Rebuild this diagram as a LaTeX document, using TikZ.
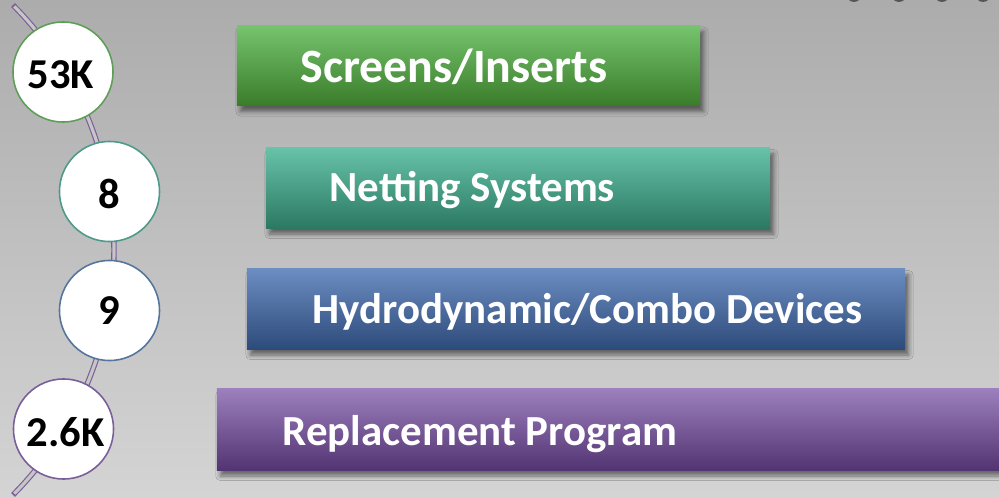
\documentclass[tikz,border=0pt]{standalone}
\usepackage{fontspec}
\setmainfont{Carlito}
\usetikzlibrary{shadows.blur}

\definecolor{bgtop}{HTML}{ACACAC}
\definecolor{bgbot}{HTML}{D4D4D4}
\definecolor{greentop}{HTML}{76C46E}
\definecolor{greenbot}{HTML}{3A7C2A}
\definecolor{tealtop}{HTML}{66C2A8}
\definecolor{tealbot}{HTML}{2C7963}
\definecolor{bluetop}{HTML}{6C8DC2}
\definecolor{bluebot}{HTML}{2D4B7A}
\definecolor{purptop}{HTML}{9C7FBD}
\definecolor{purpbot}{HTML}{533472}
\definecolor{greenring}{HTML}{5E9E58}
\definecolor{tealring}{HTML}{4E9A88}
\definecolor{bluering}{HTML}{56759C}
\definecolor{purpring}{HTML}{7A5E98}
\definecolor{railin}{HTML}{C6C6C6}

\tikzset{
  bar/.style={rectangle, inner sep=0pt, minimum height=0.80cm,
    blur shadow={shadow xshift=0.035cm, shadow yshift=-0.06cm,
      shadow blur radius=0.045cm, shadow opacity=50}},
  bartext/.style={anchor=base west, inner sep=0pt, text=white,
    font=\bfseries\fontsize{12.2}{13}\selectfont},
  ring/.style={circle, fill=white, line width=0.45pt, minimum size=1cm,
    inner sep=0pt, font=\bfseries\fontsize{12.1}{13}\selectfont},
}

\begin{document}
\begin{tikzpicture}[x=0.01cm, y=-0.01cm]
\useasboundingbox (0,0) rectangle (999,497);
\begin{scope}
\clip (0,0) rectangle (999,497);

% backdrop
\shade[top color=bgtop, bottom color=bgbot] (0,0) rectangle (999,497);

% dark rims peeking in at the top edge
\foreach \cx in {854,899,942,983}
  \fill[black!75, opacity=0.8] (\cx,-9) ellipse [x radius=9, y radius=11];

% rail running behind the counters
\coordinate (railtop) at (13,5);
\coordinate (railbot) at (13,494);
\draw[purpring, line width=1.55pt]
  plot[domain=-44.8:44.8, samples=60, smooth]
  ({-233.6+347.6*cos(\x)}, {250+347.6*sin(\x)});
\draw[railin, line width=0.9pt]
  plot[domain=-44.5:44.5, samples=60, smooth]
  ({-233.6+347.6*cos(\x)}, {250+347.6*sin(\x)});

% category bars
\node[bar, minimum width=4.63cm, top color=greentop, bottom color=greenbot]
  (b1) at (468.5,65.5) {};
\node[bar, minimum width=5.04cm, top color=tealtop, bottom color=tealbot]
  (b2) at (518,188) {};
\node[bar, minimum width=6.58cm, top color=bluetop, bottom color=bluebot]
  (b3) at (576,309) {};
\node[bar, minimum width=7.90cm, minimum height=0.81cm,
  top color=purptop, bottom color=purpbot]
  (b4) at (612,429.5) {};

\node[bartext, font=\bfseries\fontsize{13.6}{14}\selectfont]
  (t1) at (300,82) {Screens/Inserts};
\node[bartext] (t2) at (329,202) {Netting Systems};
\node[bartext] (t3) at (312,323) {Hydrodynamic/Combo Devices};
\node[bartext] (t4) at (282,445) {Replacement Program};

% counters
\node[ring, draw=greenring] (c1) at (63,72) {};
\node[ring, draw=tealring] (c2) at (109.5,191.5) {};
\node[ring, draw=bluering] (c3) at (109.5,310.5) {};
\node[ring, draw=purpring] (c4) at (63.5,429) {};
\node[ring, fill=none, draw=none] (n1) at (61,75) {53K};
\node[ring, fill=none, draw=none] (n2) at (109.5,194) {8};
\node[ring, fill=none, draw=none] (n3) at (109.5,311) {9};
\node[ring, fill=none, draw=none] (n4) at (65.5,432) {2.6K};
\end{scope}
\end{tikzpicture}
\end{document}
